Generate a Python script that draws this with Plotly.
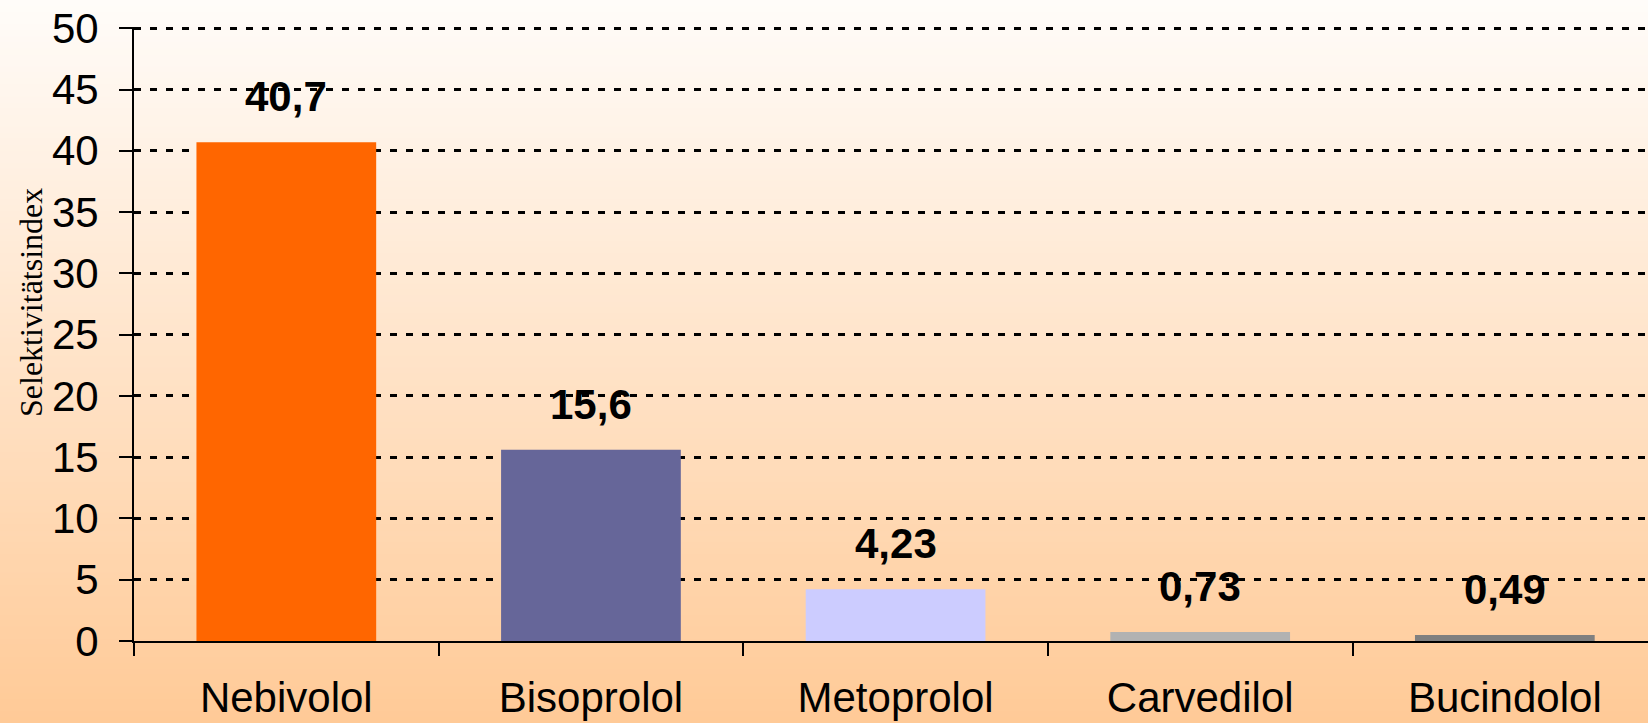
import plotly.graph_objects as go

categories = ["Nebivolol", "Bisoprolol", "Metoprolol", "Carvedilol", "Bucindolol"]
values = [40.7, 15.6, 4.23, 0.73, 0.49]
bar_colors = ["#FF6600", "#666699", "#CCCCFF", "#B2B2B2", "#808080"]
y_ticks = list(range(0, 55, 5))
y_title = "Selektivitätsindex"

W, H = 1648, 723
YMAX = 50.1
ML, MR, MB = 134, 0, 82
PX_PER_UNIT = (723 - 82 - 28) / 50.0
MT = round(723 - MB - PX_PER_UNIT * YMAX)
pw, ph = W - ML - MR, H - MT - MB

fig = go.Figure()
fig.add_trace(go.Bar(
    x=categories, y=values, marker=dict(color=bar_colors, line=dict(width=0)),
    hoverinfo="x+y",
))

# background vertical gradient (white -> peach)
top = (255, 252, 249)
bot = (255, 202, 151)
n = 120
shapes = []
for i in range(n):
    f = i / (n - 1)
    c = tuple(round(top[k] + (bot[k] - top[k]) * f) for k in range(3))
    py0 = H * i / n
    py1 = H * (i + 1) / n + 0.8
    shapes.append(dict(
        type="rect", xref="paper", yref="paper", layer="below",
        x0=-ML / pw, x1=1.0 + MR / pw,
        y0=(H - MB - py1) / ph, y1=(H - MB - py0) / ph,
        fillcolor="rgb(%d,%d,%d)" % c, line=dict(width=0),
    ))

annotations = []
for cat, v in zip(categories, values):
    annotations.append(dict(
        x=cat, y=v, xref="x", yref="y", text=str(v).replace(".", ","),
        showarrow=False, yanchor="bottom", yshift=20,
        font=dict(family="Liberation Sans, Arial", size=42, color="black", weight="bold"),
    ))
annotations.append(dict(
    x=(31 - ML) / pw, y=(H - MB - 302) / ph, xref="paper", yref="paper",
    xanchor="center", yanchor="middle",
    text=y_title, textangle=-90, showarrow=False,
    font=dict(family="Liberation Serif, Times New Roman", size=32, color="black"),
))

fig.update_layout(
    width=W, height=H,
    margin=dict(l=ML, r=MR, t=MT, b=MB, pad=0),
    paper_bgcolor="rgba(0,0,0,0)", plot_bgcolor="rgba(0,0,0,0)",
    bargap=0.41, showlegend=False,
    shapes=shapes, annotations=annotations,
    font=dict(family="Liberation Sans, Arial", color="black"),
)
fig.update_xaxes(
    range=[-0.5, 4.47], tickson="boundaries", ticks="outside", ticklen=13,
    tickwidth=2, tickcolor="black", showline=True, linecolor="black", linewidth=2,
    showgrid=False, tickfont=dict(size=42), ticklabelstandoff=19, zeroline=False,
)
fig.update_yaxes(
    range=[0, YMAX], tickvals=y_ticks, ticks="outside", ticklen=13, tickwidth=2,
    tickcolor="black", showline=True, linecolor="black", linewidth=2,
    showgrid=True, gridcolor="black", gridwidth=2.6, griddash="7px,9px",
    tickfont=dict(size=42), ticklabelstandoff=12, zeroline=False,
)
fig.write_html("out.html")
